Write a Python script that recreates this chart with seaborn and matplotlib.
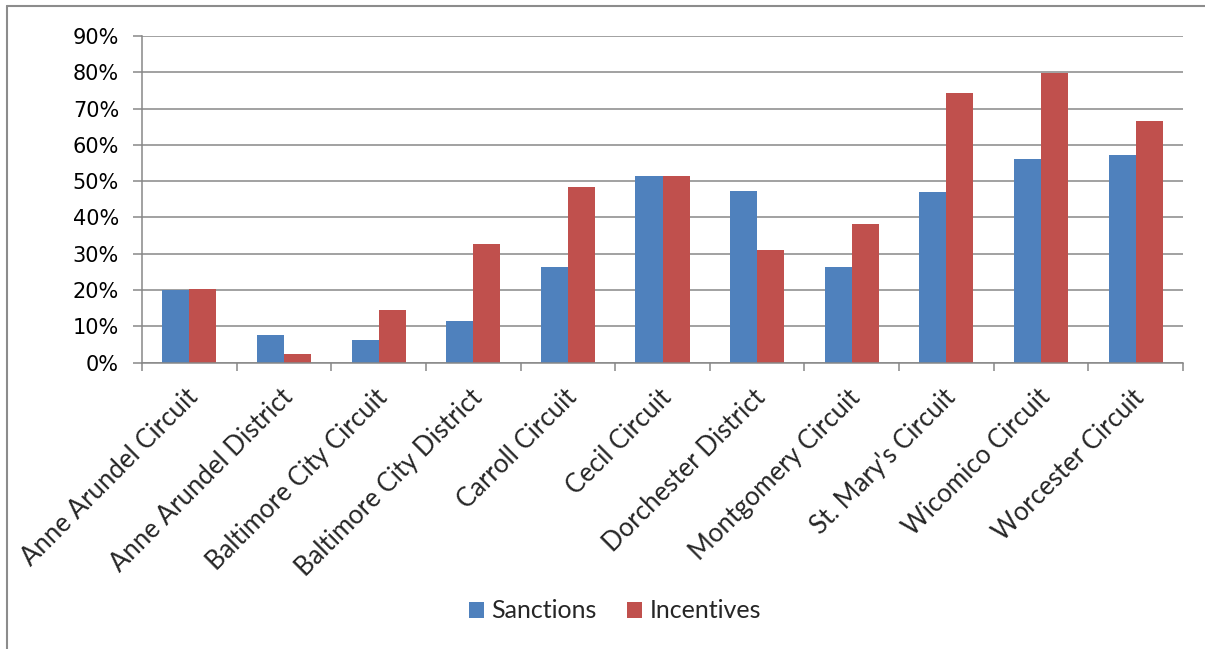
import pandas as pd
import matplotlib.pyplot as plt
import matplotlib.transforms as mtransforms
import seaborn as sns
from matplotlib.lines import Line2D
from matplotlib.patches import Patch
from matplotlib.ticker import PercentFormatter

courts = ['Anne Arundel Circuit', 'Anne Arundel District', 'Baltimore City Circuit',
          'Baltimore City District', 'Carroll Circuit', 'Cecil Circuit',
          'Dorchester District', 'Montgomery Circuit', "St. Mary's Circuit",
          'Wicomico Circuit', 'Worcester Circuit']
sanctions = [0.199, 0.075, 0.063, 0.114, 0.262, 0.514, 0.474, 0.262, 0.469, 0.561, 0.572]
incentives = [0.202, 0.023, 0.146, 0.328, 0.484, 0.513, 0.311, 0.381, 0.744, 0.799, 0.666]
series = ['Sanctions', 'Incentives']
colors = ['#4F81BD', '#C0504D']

df = pd.DataFrame({
    'court': courts * 2,
    'value': sanctions + incentives,
    'series': ['Sanctions'] * len(courts) + ['Incentives'] * len(courts),
})

sns.set_style('white')
label_font = ['Lato', 'DejaVu Sans']
grid_col = '#878787'

fig = plt.figure(figsize=(12.05, 6.49), dpi=100)
ax = fig.add_axes([142 / 1205, 1 - 362.5 / 649, (1183 - 142) / 1205, (362.5 - 36) / 649])

sns.barplot(data=df, x='court', y='value', hue='series', hue_order=series,
            palette=colors, width=0.571, saturation=1, legend=False, ax=ax,
            edgecolor='none', linewidth=0)

ax.set_ylim(0, 0.9)
ax.set_xlim(-0.5, len(courts) - 0.5)
ax.set_yticks([i / 10 for i in range(10)])
ax.yaxis.set_major_formatter(PercentFormatter(1.0, decimals=0))
ax.set_xlabel('')
ax.set_ylabel('')
ax.yaxis.grid(True, color=grid_col, linewidth=1.1)
ax.set_axisbelow(True)

for side in ['top', 'right']:
    ax.spines[side].set_visible(False)
for side in ['left', 'bottom']:
    ax.spines[side].set_color(grid_col)
    ax.spines[side].set_linewidth(1.1)

ax.tick_params(axis='y', which='major', left=True, length=6.5, width=1.1,
               color=grid_col, labelsize=15, pad=10, labelcolor='black')
for t in ax.get_yticklabels():
    t.set_fontfamily('DejaVu Sans')

# tick marks between categories, labels at the centres
ax.set_xticks([i - 0.5 for i in range(len(courts) + 1)], minor=True)
ax.tick_params(axis='x', which='minor', bottom=True, length=5.5, width=1.1, color=grid_col)
ax.tick_params(axis='x', which='major', bottom=False, length=0, pad=16)
ax.set_xticks(range(len(courts)))
ax.set_xticklabels(courts, rotation=45, ha='right', rotation_mode='anchor',
                   fontsize=18.5, family=label_font)
shift = mtransforms.ScaledTranslation(-4 / 100, 0, fig.dpi_scale_trans)
for t in ax.get_xticklabels():
    t.set_transform(t.get_transform() + shift)

handles = [Patch(facecolor=c, edgecolor='none') for c in colors]
fig.legend(handles, series, loc='center', bbox_to_anchor=(615 / 1205, 1 - 611 / 649),
           ncol=2, frameon=False, prop={'family': label_font, 'size': 18},
           handlelength=0.6, handleheight=0.6, handletextpad=0.3, columnspacing=1.2)

# outer chart frame (left and top edges visible)
fig.add_artist(Line2D([7 / 1205, 7 / 1205], [0, 1 - 6 / 649], color='#8c8c8c', linewidth=1.5))
fig.add_artist(Line2D([7 / 1205, 1], [1 - 6 / 649, 1 - 6 / 649], color='#8c8c8c', linewidth=1.5))

fig.savefig('out.png', dpi=100)
